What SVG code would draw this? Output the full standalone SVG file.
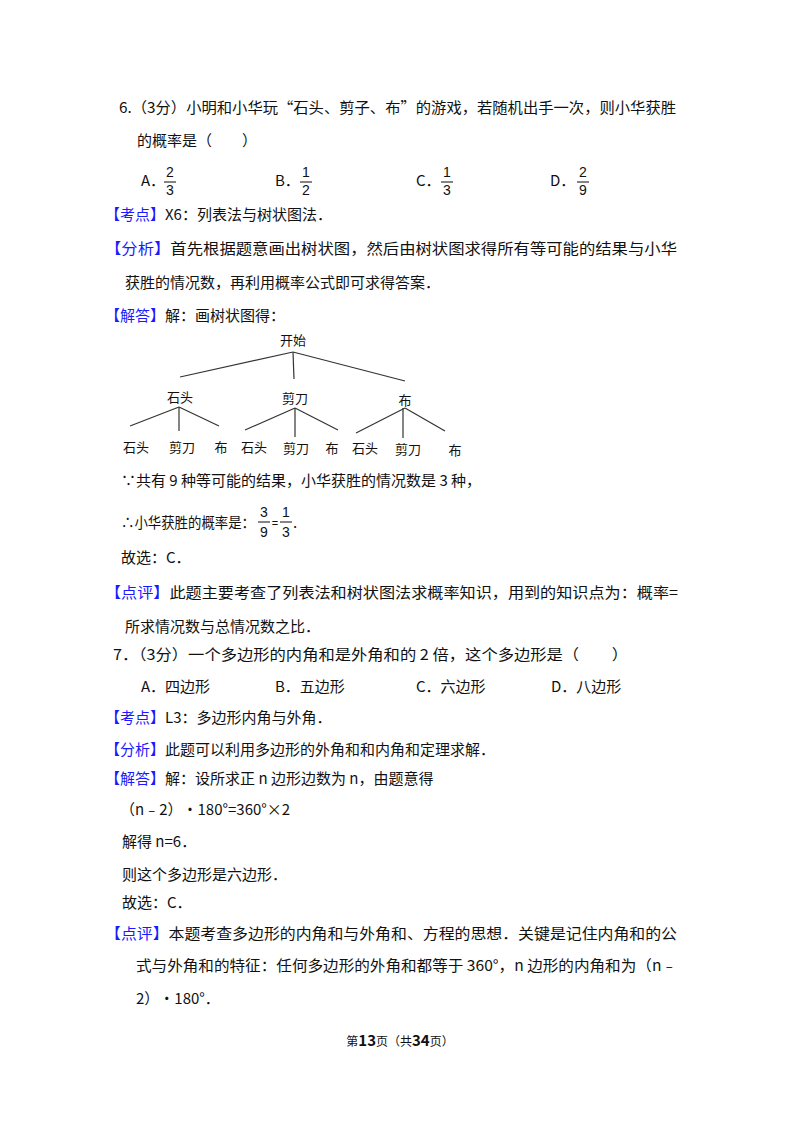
<svg xmlns="http://www.w3.org/2000/svg" width="800" height="1132" viewBox="0 0 800 1132">
<style>
text{font-family:"Noto Sans CJK SC","Noto Sans",sans-serif;font-size:15px;fill:#111}
.b{fill:#1a1aff}
.f{font-family:"Liberation Sans",sans-serif;font-size:14px;text-anchor:middle}
.t{font-size:13px;text-anchor:middle}
line{stroke:#333;stroke-width:1.2}
</style>
<rect width="800" height="1132" fill="#fff"/>
<text x="119" y="113" textLength="557" lengthAdjust="spacingAndGlyphs">6.（3分）小明和小华玩“石头、剪子、布”的游戏，若随机出手一次，则小华获胜</text>
<text x="137" y="146">的概率是（　　）</text>
<g id="options6">
<text x="141" y="186">A．</text><text class="f" x="170" y="177">2</text><line x1="164" y1="182" x2="176" y2="182"/><text class="f" x="170" y="195">3</text>
<text x="275" y="186">B．</text><text class="f" x="306" y="177">1</text><line x1="300" y1="182" x2="312" y2="182"/><text class="f" x="306" y="195">2</text>
<text x="416" y="186">C．</text><text class="f" x="447" y="177">1</text><line x1="441" y1="182" x2="453" y2="182"/><text class="f" x="447" y="195">3</text>
<text x="550" y="186">D．</text><text class="f" x="583" y="177">2</text><line x1="577" y1="182" x2="589" y2="182"/><text class="f" x="583" y="195">9</text>
</g>
<text x="105" y="220"><tspan class="b">【考点】</tspan>X6：列表法与树状图法．</text>
<text x="105" y="254" textLength="572" lengthAdjust="spacingAndGlyphs"><tspan class="b">【分析】</tspan>首先根据题意画出树状图，然后由树状图求得所有等可能的结果与小华</text>
<text x="125" y="288">获胜的情况数，再利用概率公式即可求得答案．</text>
<text x="105" y="321"><tspan class="b">【解答】</tspan>解：画树状图得：</text>
<g id="tree">
<g id="connectors">
<line x1="293" y1="352" x2="180" y2="377"/><line x1="293" y1="352" x2="294" y2="379"/><line x1="293" y1="352" x2="405" y2="381"/>
<line x1="179" y1="407" x2="130" y2="426"/><line x1="179" y1="407" x2="179" y2="431"/><line x1="179" y1="407" x2="219" y2="426"/>
<line x1="295" y1="408" x2="245" y2="430"/><line x1="295" y1="408" x2="295" y2="437"/><line x1="295" y1="408" x2="338" y2="430"/>
<line x1="405" y1="408" x2="356" y2="433"/><line x1="403" y1="408" x2="403" y2="438"/><line x1="405" y1="408" x2="445" y2="431"/>
</g>
<g id="n-root"><text class="t" x="293" y="345">开始</text></g>
<g id="n-a"><text class="t" x="180" y="402">石头</text></g>
<g id="n-b"><text class="t" x="295" y="403">剪刀</text></g>
<g id="n-c"><text class="t" x="405" y="405">布</text></g>
<g id="n-leaves">
<text class="t" x="136" y="452">石头</text><text class="t" x="182" y="452">剪刀</text><text class="t" x="221" y="452">布</text>
<text class="t" x="254" y="452">石头</text><text class="t" x="296" y="453">剪刀</text><text class="t" x="332" y="453">布</text>
<text class="t" x="365" y="453">石头</text><text class="t" x="408" y="454">剪刀</text><text class="t" x="455" y="455">布</text>
</g>
</g>
<text x="121" y="486">∵共有 9 种等可能的结果，小华获胜的情况数是 3 种，</text>
<text x="121" y="528" textLength="134" lengthAdjust="spacingAndGlyphs">∴小华获胜的概率是：</text>
<text class="f" x="264" y="517">3</text><line x1="258" y1="522" x2="270" y2="522"/><text class="f" x="264" y="537">9</text>
<text class="f" x="275" y="527" style="font-size:11px">=</text>
<text class="f" x="286" y="517">1</text><line x1="280" y1="522" x2="292" y2="522"/><text class="f" x="286" y="537">3</text>
<text x="293" y="528">.</text>
<text x="121" y="563">故选：C．</text>
<text x="105" y="598" textLength="573" lengthAdjust="spacingAndGlyphs"><tspan class="b">【点评】</tspan>此题主要考查了列表法和树状图法求概率知识，用到的知识点为：概率=</text>
<text x="125" y="632">所求情况数与总情况数之比．</text>
<text x="113" y="660" textLength="515" lengthAdjust="spacingAndGlyphs">7．（3分）一个多边形的内角和是外角和的 2 倍，这个多边形是（　　）</text>
<text x="141" y="692">A．四边形</text><text x="275" y="692">B．五边形</text><text x="416" y="692">C．六边形</text><text x="551" y="692">D．八边形</text>
<text x="105" y="723"><tspan class="b">【考点】</tspan>L3：多边形内角与外角．</text>
<text x="105" y="755"><tspan class="b">【分析】</tspan>此题可以利用多边形的外角和和内角和定理求解．</text>
<text x="105" y="784"><tspan class="b">【解答】</tspan>解：设所求正 n 边形边数为 n，由题意得</text>
<text x="120" y="815">（n﹣2）•180°=360°×2</text>
<text x="122" y="847">解得 n=6．</text>
<text x="122" y="880">则这个多边形是六边形．</text>
<text x="122" y="908">故选：C．</text>
<text x="105" y="939" textLength="572" lengthAdjust="spacingAndGlyphs"><tspan class="b">【点评】</tspan>本题考查多边形的内角和与外角和、方程的思想．关键是记住内角和的公</text>
<text x="136" y="971" textLength="541" lengthAdjust="spacingAndGlyphs">式与外角和的特征：任何多边形的外角和都等于 360°，n 边形的内角和为（n﹣</text>
<text x="136" y="1004">2）•180°．</text>
<text x="400" y="1046" style="font-size:12px;text-anchor:middle">第<tspan font-weight="bold" font-size="15">13</tspan>页（共<tspan font-weight="bold" font-size="15">34</tspan>页）</text>
</svg>
